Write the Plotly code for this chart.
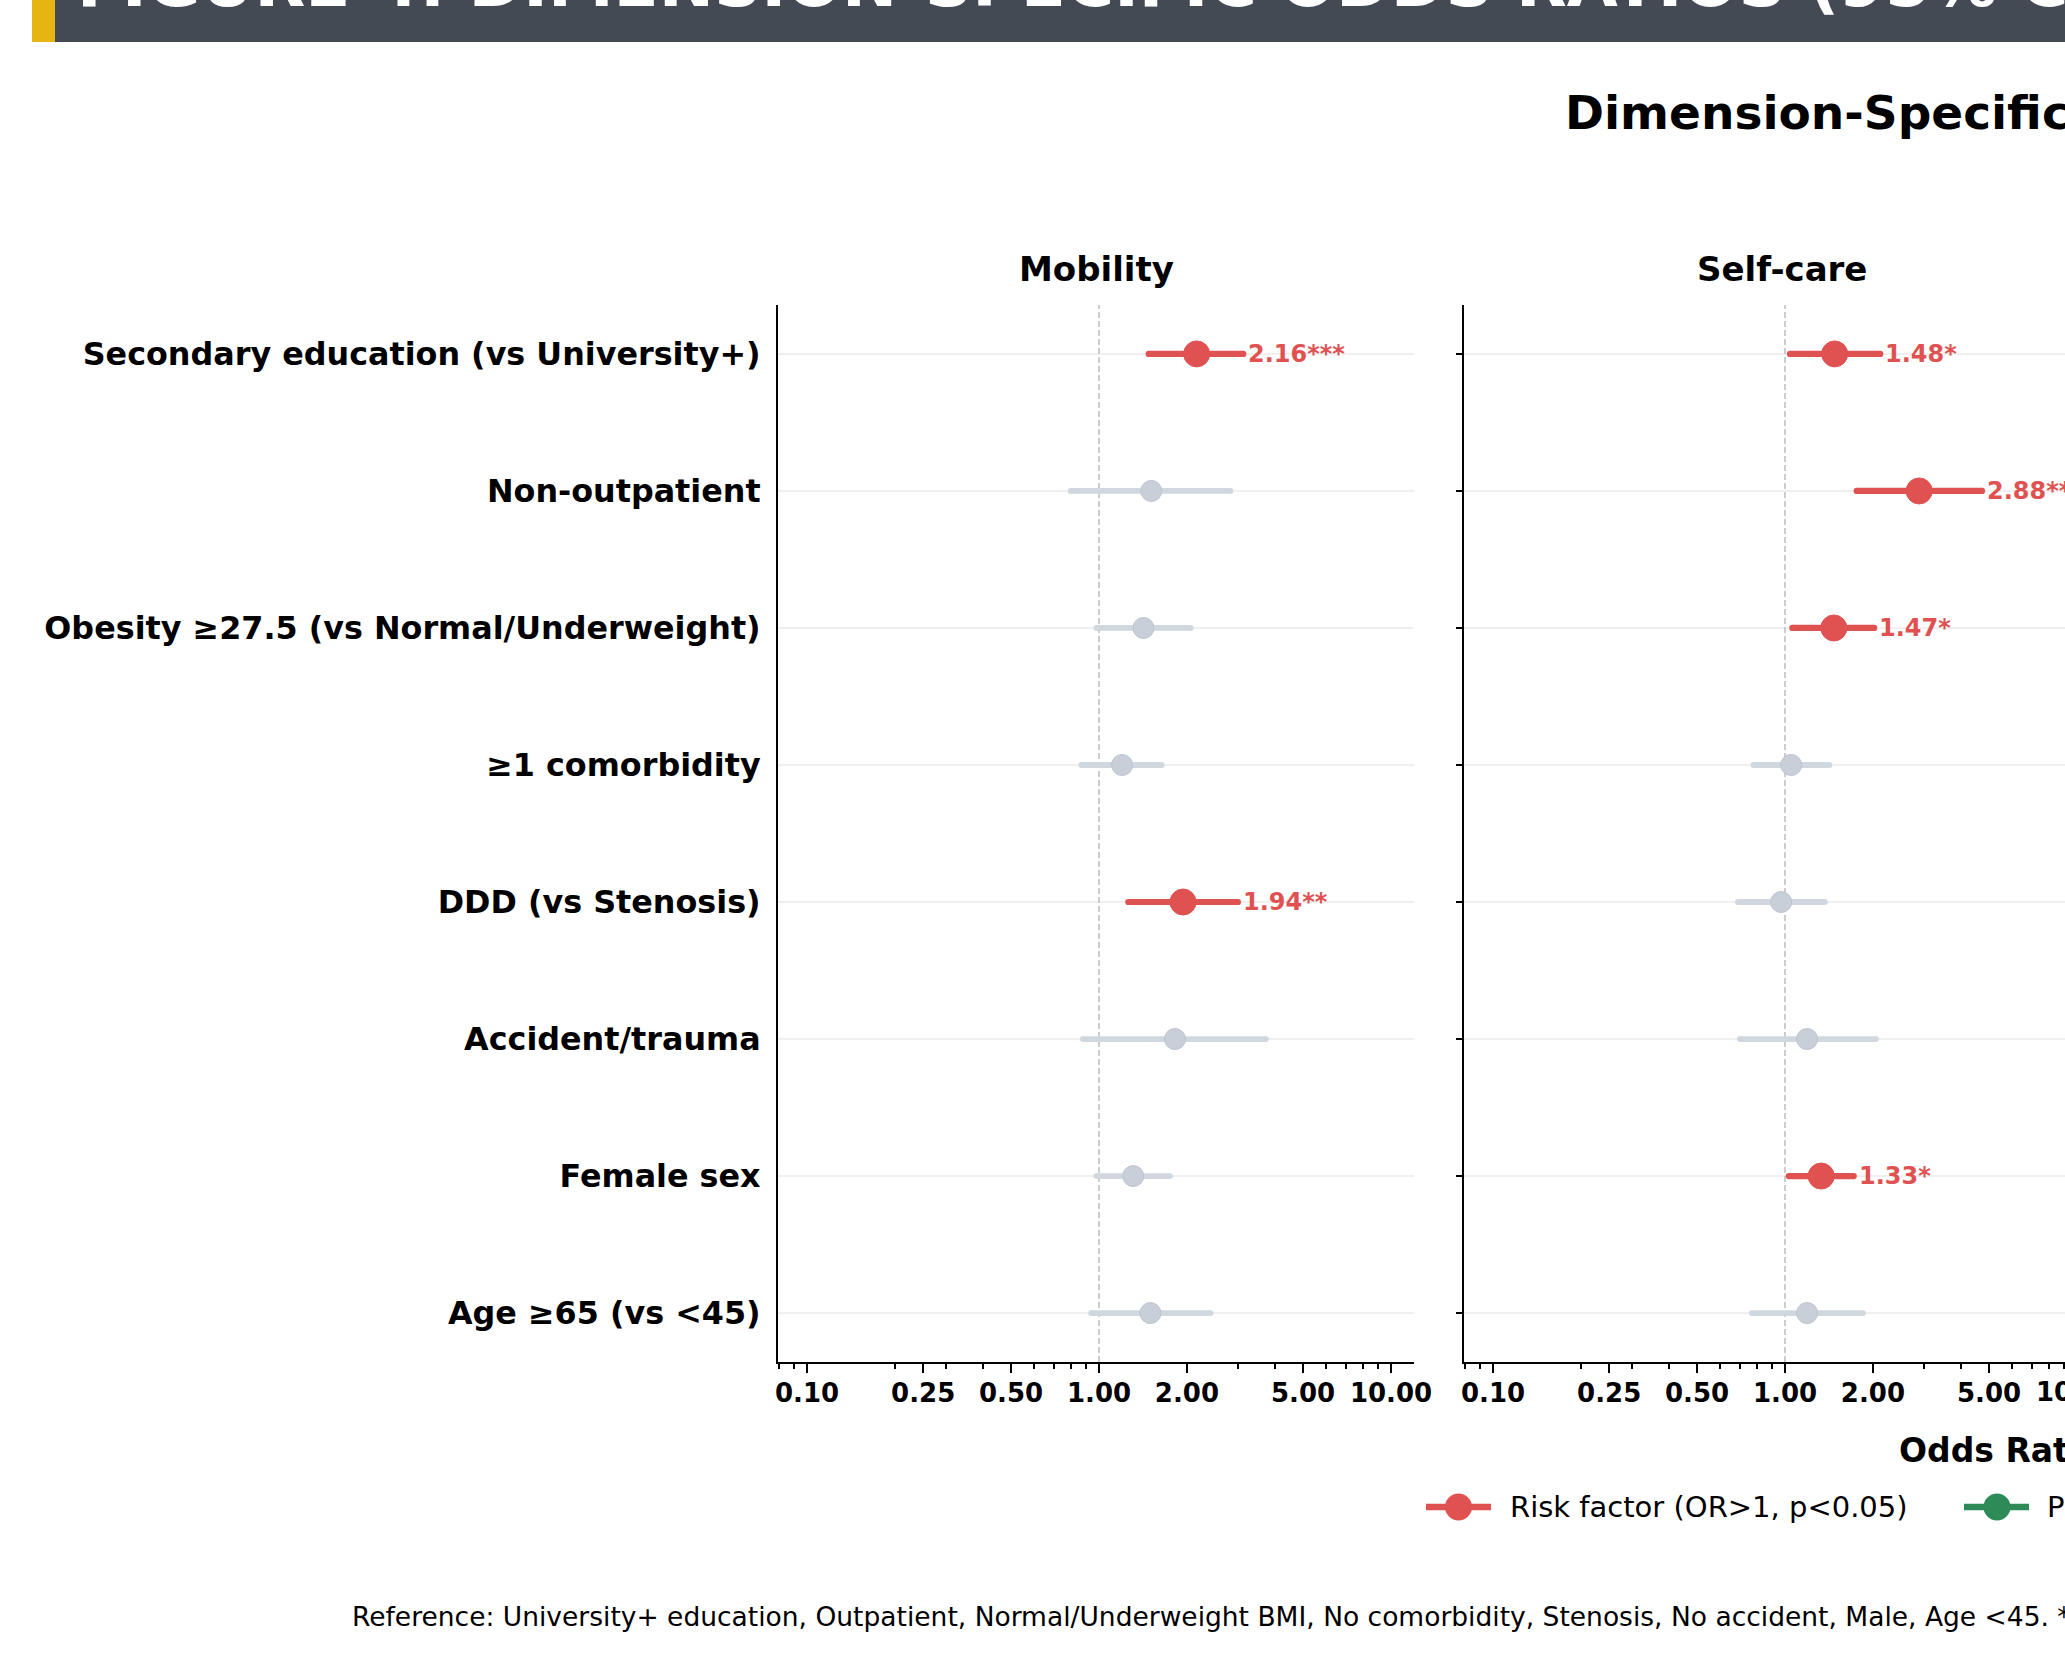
import numpy as np
import plotly.graph_objects as go

W, H = 2065, 1663
FONT = "DejaVu Sans"

# ---------------- data ----------------
factors = [
    "Secondary education (vs University+)",
    "Non-outpatient",
    "Obesity ≥27.5 (vs Normal/Underweight)",
    "≥1 comorbidity",
    "DDD (vs Stenosis)",
    "Accident/trauma",
    "Female sex",
    "Age ≥65 (vs <45)",
]

mob_or = [2.16, 1.51, 1.42, 1.20, 1.94, 1.82, 1.31, 1.50]
mob_lo = [1.48, 0.80, 0.98, 0.87, 1.26, 0.88, 0.98, 0.94]
mob_hi = [3.12, 2.82, 2.06, 1.64, 2.99, 3.73, 1.75, 2.41]
mob_sig = ["***", "", "", "", "**", "", "", ""]

sc_or = [1.48, 2.88, 1.47, 1.05, 0.97, 1.19, 1.33, 1.19]
sc_lo = [1.04, 1.76, 1.06, 0.78, 0.69, 0.70, 1.03, 0.77]
sc_hi = [2.12, 4.73, 2.02, 1.42, 1.37, 2.05, 1.72, 1.85]
sc_sig = ["*", "***", "*", "", "", "", "*", ""]

dimensions = ["Mobility", "Self-care"]

x_tickvals = [0.1, 0.25, 0.5, 1, 2, 5, 10]
x_ticktext = ["0.10", "0.25", "0.50", "1.00", "2.00", "5.00", "10.00"]
x_minorvals = [0.08, 0.09, 0.2, 0.3, 0.4, 0.6, 0.7, 0.8, 0.9, 3, 4, 6, 7, 8, 9]

legend_labels = ["Risk factor (OR>1, p<0.05)", "Protective factor (OR<1, p<0.05)"]

banner_title = "FIGURE 4: DIMENSION-SPECIFIC ODDS RATIOS (95% CI)"
sup_title = "Dimension-Specific Adjusted Odds Ratios (95% CI)"
x_title = "Odds Ratio (95% CI, log scale)"
footnote = ("Reference: University+ education, Outpatient, Normal/Underweight BMI, "
            "No comorbidity, Stenosis, No accident, Male, Age <45. "
            "*p<0.05, **p<0.01, ***p<0.001")

# ---------------- style ----------------
RED = "#E05252"
GREEN = "#2E8B57"
GREY_LINE = "#D1D7DF"
GREY_PT = "#C8CFD8"
GRID = "#F0F0F0"
BANNER = "#434A53"
ACCENT = "#E6B511"

TICK_FS = 26
LAB_FS = 24
PX_PER_DECADE = 292.0


def px(x):
    return x / W


def py(y):
    return 1 - y / H


Y_DOMAIN = [py(1362), py(305)]
X_DOMAINS = [[px(778), px(1414)], [px(1464), 1.0]]
X_LOG_MIN = -1.0993
X_RANGES = [[X_LOG_MIN, X_LOG_MIN + (1414 - 778) / PX_PER_DECADE],
            [X_LOG_MIN, X_LOG_MIN + (W - 1464) / PX_PER_DECADE]]
Y_RANGE = [7.357, -0.357]

fig = go.Figure()
annotations = []
shapes = []

panels = [
    (mob_or, mob_lo, mob_hi, mob_sig),
    (sc_or, sc_lo, sc_hi, sc_sig),
]

for k, (ors, los, his, sig) in enumerate(panels):
    xa = "x" if k == 0 else "x2"
    ya = "y" if k == 0 else "y2"
    # reference line at OR = 1
    fig.add_trace(go.Scatter(
        x=[1, 1], y=Y_RANGE, xaxis=xa, yaxis=ya, mode="lines",
        line=dict(color="#BDBDBD", width=1.5, dash="6px,3px"),
        showlegend=False, hoverinfo="skip"))
    groups = {"ns": [], "risk": [], "prot": []}
    for i in range(len(factors)):
        if sig[i] == "":
            groups["ns"].append(i)
        elif ors[i] >= 1:
            groups["risk"].append(i)
        else:
            groups["prot"].append(i)
    for g, idx in groups.items():
        if not idx:
            continue
        if g == "ns":
            lc, pc, lw, ms, cap = GREY_LINE, GREY_PT, 5.8, 21, 5.8
        else:
            col = RED if g == "risk" else GREEN
            lc, pc, lw, ms, cap = col, col, 6.2, 26, 6.2
        xs, ys = [], []
        for i in idx:
            xs += [los[i], his[i], None]
            ys += [i, i, None]
        fig.add_trace(go.Scatter(
            x=xs, y=ys, xaxis=xa, yaxis=ya, mode="lines+markers",
            line=dict(color=lc, width=lw),
            marker=dict(color=lc, size=cap, line=dict(width=0)),
            showlegend=False, hoverinfo="skip"))
        fig.add_trace(go.Scatter(
            x=[ors[i] for i in idx], y=idx, xaxis=xa, yaxis=ya, mode="markers",
            marker=dict(color=pc, size=ms,
                        line=dict(color="#BCC4CF" if g == "ns" else pc, width=1)),
            showlegend=False, hoverinfo="skip"))
        if g != "ns":
            for i in idx:
                annotations.append(dict(
                    x=float(np.log10(his[i])), y=i, xref=xa, yref=ya,
                    text=f"{ors[i]:.2f}{sig[i]}", showarrow=False,
                    xanchor="left", yanchor="middle", xshift=3,
                    font=dict(family=FONT, size=LAB_FS, color=pc, weight="bold")))

common_x = dict(
    type="log", showline=True, linecolor="black", linewidth=2,
    ticks="outside", ticklen=9, tickwidth=2, tickcolor="black",
    tickvals=x_tickvals, ticktext=x_ticktext,
    tickfont=dict(family=FONT, size=TICK_FS, color="black", weight="bold"),
    minor=dict(tickvals=x_minorvals, ticks="outside", ticklen=5,
               tickwidth=1.5, tickcolor="black", showgrid=False),
    showgrid=False, zeroline=False, ticklabelstandoff=-2, fixedrange=True,
    automargin=False,
)
common_y = dict(
    domain=Y_DOMAIN, range=Y_RANGE, tickvals=list(range(len(factors))),
    showline=True, linecolor="black", linewidth=2, showgrid=True,
    gridcolor=GRID, gridwidth=1.5, zeroline=False, fixedrange=True,
    automargin=False,
)

fig.update_layout(
    width=W, height=H, autosize=False,
    margin=dict(l=0, r=0, t=0, b=0, pad=0, autoexpand=False),
    paper_bgcolor="white", plot_bgcolor="white",
    font=dict(family=FONT, color="black"),
    showlegend=False,
    xaxis=dict(common_x, domain=X_DOMAINS[0], range=X_RANGES[0], anchor="y"),
    xaxis2=dict(common_x, domain=X_DOMAINS[1], range=X_RANGES[1], anchor="y2"),
    yaxis=dict(common_y, anchor="x", ticktext=factors, ticks="",
               tickfont=dict(family=FONT, size=31.8, color="black", weight="bold"),
               ticklabelstandoff=9),
    yaxis2=dict(common_y, anchor="x2", showticklabels=False, ticks="outside",
                ticklen=6, tickwidth=2, tickcolor="black"),
)

# partially visible "10.00" tick label of the Self-care panel (cut by the page edge)
x10_px = 1464 + (np.log10(10) - X_LOG_MIN) * PX_PER_DECADE
annotations.append(dict(
    x=px(x10_px), y=py(1401.5 + 0.236 * TICK_FS + 1), xref="paper", yref="paper",
    text=x_ticktext[-1], showarrow=False, xanchor="center", yanchor="bottom",
    font=dict(family=FONT, size=TICK_FS, color="black", weight="bold")))

# banner
shapes.append(dict(type="rect", xref="paper", yref="paper", x0=px(32), x1=px(55),
                   y0=py(42), y1=1.1, fillcolor=ACCENT, line=dict(width=0)))
shapes.append(dict(type="rect", xref="paper", yref="paper", x0=px(55), x1=px(2100),
                   y0=py(42), y1=1.1, fillcolor=BANNER, line=dict(width=0)))
annotations.append(dict(
    x=px(75), y=py(7 + 0.236 * 66 + 1), xref="paper", yref="paper",
    text=banner_title, showarrow=False, xanchor="left", yanchor="bottom",
    font=dict(family=FONT, size=66, color="white", weight="bold")))

# super title
annotations.append(dict(
    x=px(1563), y=py(130 + 0.236 * 47 + 1), xref="paper", yref="paper",
    text=sup_title, showarrow=False, xanchor="left", yanchor="bottom",
    font=dict(family=FONT, size=47, color="black", weight="bold")))

# panel titles
for k, name in enumerate(dimensions):
    cx = 778 + 318 + k * 686
    annotations.append(dict(
        x=px(cx), y=py(282 + 0.236 * 34 + 1), xref="paper", yref="paper",
        text=name, showarrow=False, xanchor="center", yanchor="bottom",
        font=dict(family=FONT, size=34, color="black", weight="bold")))

# x-axis title
annotations.append(dict(
    x=px(1897), y=py(1463 + 0.236 * 33 + 1), xref="paper", yref="paper",
    text=x_title, showarrow=False, xanchor="left", yanchor="bottom",
    font=dict(family=FONT, size=33, color="black", weight="bold")))

# legend
for (x0, x1, cx, tx), lab, col in zip([(1426, 1491, 1458.5, 1508), (1964, 2029, 1997, 2045)],
                                      legend_labels, [RED, GREEN]):
    ly = 1507
    shapes.append(dict(type="line", xref="paper", yref="paper",
                       x0=px(x0), x1=px(x1), y0=py(ly), y1=py(ly),
                       line=dict(color=col, width=6.5)))
    r = 13.5
    shapes.append(dict(type="circle", xref="paper", yref="paper",
                       x0=px(cx - r), x1=px(cx + r), y0=py(ly + r), y1=py(ly - r),
                       fillcolor=col, line=dict(color=col, width=0)))
    annotations.append(dict(
        x=px(tx), y=py(1518.3 + 0.236 * 29 + 1), xref="paper", yref="paper",
        text=lab, showarrow=False, xanchor="left", yanchor="bottom",
        font=dict(family=FONT, size=29, color="black")))

# footnote
annotations.append(dict(
    x=px(349.5), y=py(1627 + 0.236 * 26.5 + 1), xref="paper", yref="paper",
    text=footnote, showarrow=False, xanchor="left", yanchor="bottom",
    font=dict(family=FONT, size=26.5, color="black")))

fig.update_layout(annotations=annotations, shapes=shapes)

fig.write_html(
    "out.html",
    config={"displayModeBar": False, "responsive": False},
    post_script="document.body.style.margin='0';document.body.style.overflow='hidden';",
)
